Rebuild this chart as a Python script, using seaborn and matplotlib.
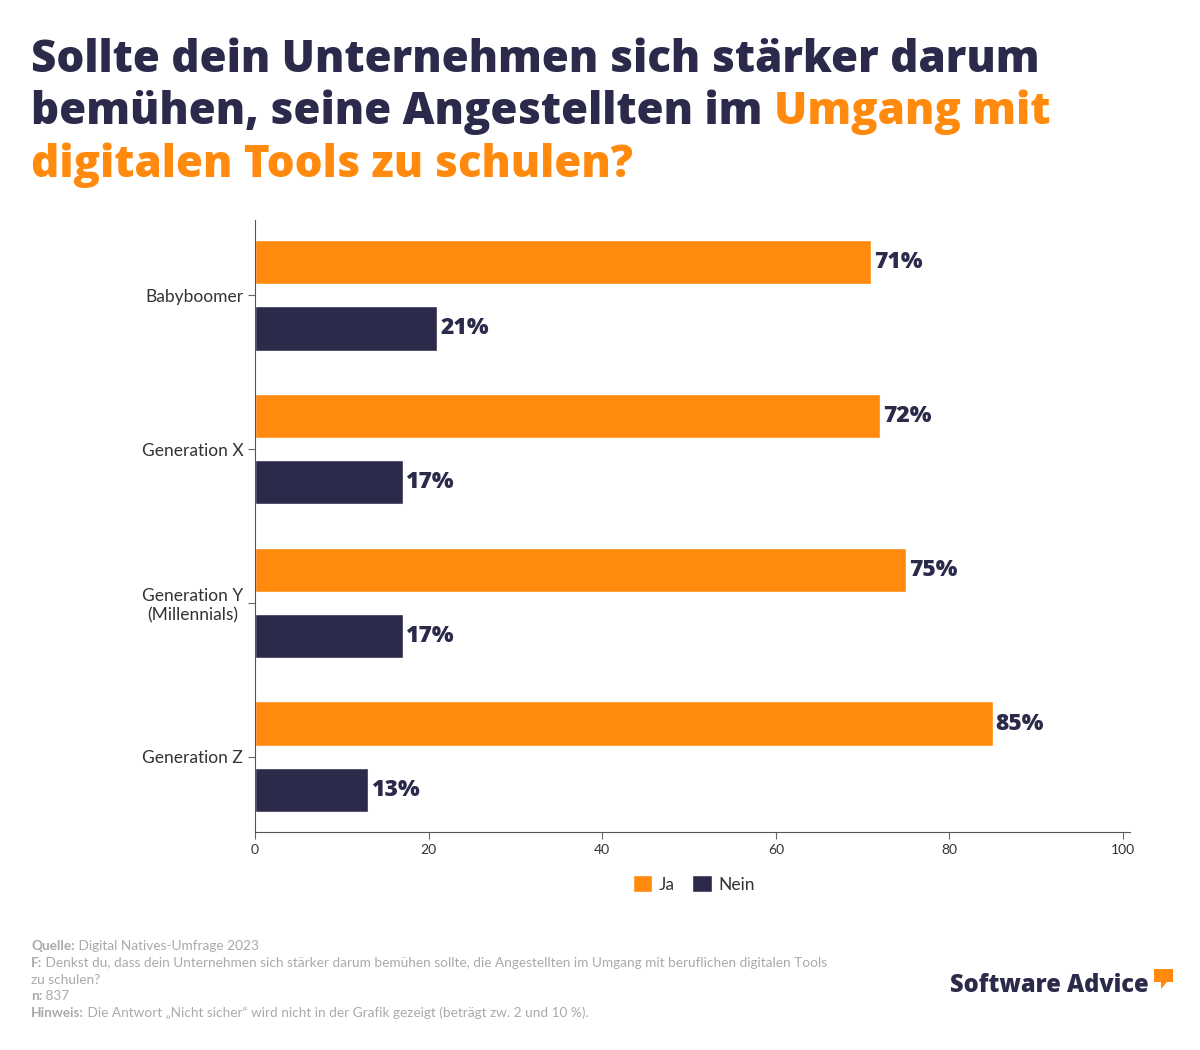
import matplotlib
matplotlib.use("Agg")
import matplotlib.pyplot as plt
import seaborn as sns
import pandas as pd
from matplotlib.patches import Patch, Polygon, FancyBboxPatch

# ---- data ----
generations = ["Babyboomer", "Generation X", "Generation Y\n(Millennials)", "Generation Z"]
ja_values = [71, 72, 75, 85]
nein_values = [21, 17, 17, 13]
answers = ["Ja", "Nein"]
x_ticks = [0, 20, 40, 60, 80, 100]

ORANGE = "#FF8A0D"
NAVY = "#2B2A4B"
GRAY = "#AAAAAA"
HEAVY = ["Open Sans", "DejaVu Sans"]

sns.set_theme(style="white")
plt.rcParams["font.family"] = ["Lato", "DejaVu Sans"]

df = pd.DataFrame({
    "Generation": generations * 2,
    "Antwort": [answers[0]] * len(generations) + [answers[1]] * len(generations),
    "Wert": ja_values + nein_values,
})

fig = plt.figure(figsize=(12, 10.5), dpi=100)
ax = fig.add_axes([255 / 1200, 218 / 1050, 875 / 1200, 612 / 1050])

sns.barplot(data=df, y="Generation", x="Wert", hue="Antwort", orient="h",
            palette=[ORANGE, NAVY], width=0.86, gap=0.33, ax=ax, legend=False,
            saturation=1)

ax.set_xlim(0, 100.8)
ax.set_ylim(3.49, -0.49)
ax.set_xticks(x_ticks)
ax.set_xticklabels([str(t) for t in x_ticks], fontsize=10, color="#333333")
ax.set_xlabel("")
ax.set_ylabel("")
ax.tick_params(axis="y", labelsize=12.5, labelcolor="#333333", length=5, color="#666666", width=0.8, left=True)
ax.tick_params(axis="x", length=5, color="#666666", width=0.8, bottom=True)
for lbl in ax.get_yticklabels():
    lbl.set_horizontalalignment("right")
    lbl.set_multialignment("center")
for s in ["top", "right"]:
    ax.spines[s].set_visible(False)
for s in ["left", "bottom"]:
    ax.spines[s].set_color("#555555")
    ax.spines[s].set_linewidth(0.8)

for cont in ax.containers:
    ax.bar_label(cont, labels=[f"{int(v)}%" for v in cont.datavalues], padding=2,
                 fontsize=16.5, fontweight="heavy", family=HEAVY, color=NAVY)

# legend
handles = [Patch(facecolor=ORANGE, label=answers[0]), Patch(facecolor=NAVY, label=answers[1])]
fig.legend(handles=handles, loc="center", bbox_to_anchor=(694 / 1200, 1 - 884 / 1050), ncol=2,
           frameon=False, fontsize=12.5, handlelength=1.1, handleheight=1.1, handletextpad=0.4,
           columnspacing=1.0, labelcolor="#333333")

# title with coloured parts
fig.canvas.draw()
renderer = fig.canvas.get_renderer()
title_lines = [
    [("Sollte dein Unternehmen sich stärker darum", NAVY)],
    [("bemühen, seine Angestellten im ", NAVY), ("Umgang mit", ORANGE)],
    [("digitalen Tools zu schulen?", ORANGE)],
]
# fit the first line to the reference width (about 1010 px)
probe = fig.text(0, 0, title_lines[0][0][0], fontsize=30, fontweight="heavy", family=HEAVY)
w = probe.get_window_extent(renderer=renderer).width
probe.remove()
tsize = 30 * 1010 / w

y_px = [60, 112, 165]
for line, yp in zip(title_lines, y_px):
    x = 31 / 1200
    for txt, col in line:
        t = fig.text(x, 1 - yp / 1050, txt, fontsize=tsize, fontweight="heavy", family=HEAVY,
                     color=col, ha="left", va="center")
        bb = t.get_window_extent(renderer=renderer)
        x += bb.width / 1200

# footer
footer = [
    ("Quelle:", " Digital Natives-Umfrage 2023"),
    ("F:", " Denkst du, dass dein Unternehmen sich stärker darum bemühen sollte, die Angestellten im Umgang mit beruflichen digitalen Tools"),
    ("", "zu schulen?"),
    ("n:", " 837"),
    ("Hinweis:", " Die Antwort „Nicht sicher“ wird nicht in der Grafik gezeigt (beträgt zw. 2 und 10 %)."),
]
fy = [946, 963, 980, 996, 1013]
for (b, r), yp in zip(footer, fy):
    x = 31 / 1200
    if b:
        t = fig.text(x, 1 - yp / 1050, b, fontsize=9.8, fontweight="bold", color=GRAY,
                     ha="left", va="center")
        x += t.get_window_extent(renderer=renderer).width / 1200
    fig.text(x, 1 - yp / 1050, r, fontsize=9.8, color=GRAY, ha="left", va="center")

# logo
lt = fig.text(950 / 1200, 1 - 985 / 1050, "Software Advice", fontsize=17, fontweight="heavy",
              family=HEAVY, color=NAVY, ha="left", va="center")
bubble = Polygon([(1154 / 1200, 1 - 969 / 1050), (1173 / 1200, 1 - 969 / 1050),
                  (1173 / 1200, 1 - 982 / 1050), (1167 / 1200, 1 - 982 / 1050),
                  (1161 / 1200, 1 - 989 / 1050), (1161 / 1200, 1 - 982 / 1050),
                  (1154 / 1200, 1 - 982 / 1050)],
                 closed=True, facecolor=ORANGE, edgecolor="none", transform=fig.transFigure)
fig.patches.append(bubble)

fig.savefig("out.png", dpi=100, facecolor="white")
